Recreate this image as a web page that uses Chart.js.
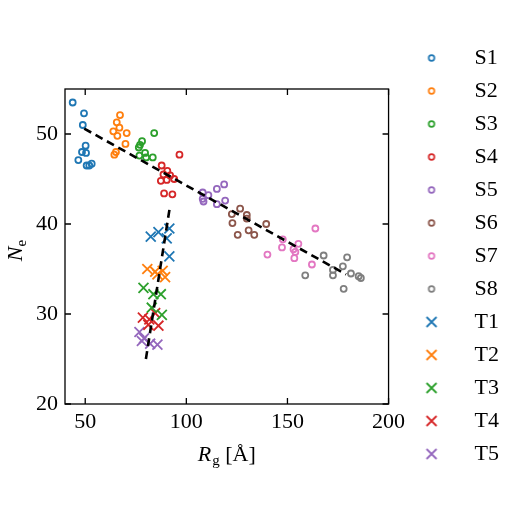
<!DOCTYPE html>
<html>
<head>
<meta charset="utf-8">
<script src="https://cdn.jsdelivr.net/npm/chart.js@4.4.1/dist/chart.umd.min.js"></script>
<style>
  html, body { margin: 0; padding: 0; background: #fff; }
  #grafico { display: block; }
</style>
</head>
<body>
<canvas id="grafico" width="512" height="512"></canvas>
<script>
// series S (circles): Rg [Å] and Ne
const s1X = [43.8, 49.4, 48.8, 50.2, 48.4, 50.4, 46.6, 50.7, 53.2, 52.0];
const s1Y = [53.5, 52.3, 51.0, 48.7, 48.0, 47.9, 47.1, 46.5, 46.7, 46.5];
const s2X = [67.2, 65.6, 66.9, 63.9, 70.5, 65.9, 69.9, 65.2, 64.4];
const s2Y = [52.1, 51.3, 50.7, 50.3, 50.1, 49.8, 48.9, 48.0, 47.7];
const s3X = [84.1, 78.1, 77.1, 76.5, 79.6, 76.8, 80.1, 83.4];
const s3Y = [50.1, 49.2, 48.8, 48.5, 47.9, 47.6, 47.4, 47.4];
const s4X = [96.6, 87.8, 90.6, 88.7, 92.0, 94.0, 87.4, 90.3, 89.0, 93.1];
const s4Y = [47.7, 46.5, 45.9, 45.5, 45.4, 45.0, 44.8, 44.9, 43.4, 43.3];
const s5X = [118.7, 115.1, 108.1, 110.9, 108.1, 108.5, 119.2, 115.1];
const s5Y = [44.4, 43.9, 43.5, 43.2, 42.8, 42.5, 42.6, 42.2];
const s6X = [126.6, 122.5, 129.9, 129.9, 139.5, 122.8, 130.8, 133.6, 125.4];
const s6Y = [41.7, 41.1, 41.0, 40.6, 40.0, 40.1, 39.3, 38.8, 38.8];
const s7X = [163.8, 147.7, 155.4, 147.3, 153.0, 153.9, 140.1, 153.4, 162.1];
const s7Y = [39.5, 38.3, 37.8, 37.4, 37.2, 36.9, 36.6, 36.2, 35.5];
const s8X = [167.9, 179.5, 177.4, 172.5, 181.4, 185.2, 186.3, 158.8, 172.5, 177.8];
const s8Y = [36.5, 36.3, 35.3, 34.9, 34.5, 34.2, 34.0, 34.3, 34.3, 32.8];

// series T (crosses)
const t1X = [82.4, 86.2, 91.6, 90.3, 91.6];
const t1Y = [38.6, 39.1, 39.5, 38.4, 36.4];
const t2X = [80.7, 84.6, 88.3, 89.5, 85.7];
const t2Y = [35.0, 34.7, 34.8, 34.1, 34.4];
const t3X = [78.8, 83.7, 87.4, 82.9, 87.9];
const t3Y = [32.9, 32.2, 32.2, 30.7, 29.9];
const t4X = [78.5, 84.6, 81.7, 86.2, 81.2];
const t4Y = [29.6, 30.1, 29.4, 28.7, 28.8];
const t5X = [76.8, 79.1, 82.1, 85.7, 78.0];
const t5Y = [28.0, 27.3, 26.7, 26.6, 27.0];

// dashed fit lines (end points)
const fitSX = [49.5, 179.0];
const fitSY = [50.6, 34.4];
const fitTX = [80.0, 92.0];
const fitTY = [25.0, 42.1];

const etiquetas = ['S1', 'S2', 'S3', 'S4', 'S5', 'S6', 'S7', 'S8', 'T1', 'T2', 'T3', 'T4', 'T5'];
const colores = ['#1f77b4', '#ff7f0e', '#2ca02c', '#d62728', '#9467bd', '#8c564b', '#e377c2', '#7f7f7f',
                 '#1f77b4', '#ff7f0e', '#2ca02c', '#d62728', '#9467bd'];
const xTicks = [50, 100, 150, 200];
const yTicks = [20, 30, 40, 50];

const serieX = [s1X, s2X, s3X, s4X, s5X, s6X, s7X, s8X, t1X, t2X, t3X, t4X, t5X];
const serieY = [s1Y, s2Y, s3Y, s4Y, s5Y, s6Y, s7Y, s8Y, t1Y, t2Y, t3Y, t4Y, t5Y];

const FONT = "'Liberation Serif', 'DejaVu Serif', serif";
const TAM = 22;

const puntos = (xs, ys) => xs.map((x, i) => ({x: x, y: ys[i]}));

// small canvases so the legend markers keep their own size
function marcador(tipo, color){
  const c = document.createElement('canvas');
  c.width = 16; c.height = 16;
  const g = c.getContext('2d');
  g.strokeStyle = color;
  g.beginPath();
  if(tipo === 'o'){
    g.lineWidth = 1.7;
    g.arc(8, 8, 2.8, 0, Math.PI * 2);
  } else {
    g.lineWidth = 1.8;
    g.moveTo(3, 3); g.lineTo(13, 13);
    g.moveTo(13, 3); g.lineTo(3, 13);
  }
  g.stroke();
  return c;
}

const datasets = etiquetas.map((nombre, i) => {
  const esCruz = nombre[0] === 'T';
  return {
    label: nombre,
    data: puntos(serieX[i], serieY[i]),
    showLine: false,
    pointStyle: esCruz ? 'crossRot' : 'circle',
    pointRadius: esCruz ? 7 : 3,
    pointBorderWidth: esCruz ? 1.8 : 1.8,
    borderColor: colores[i],
    backgroundColor: 'rgba(0,0,0,0)',
    pointBackgroundColor: 'rgba(0,0,0,0)',
    legendMarker: marcador(esCruz ? 'x' : 'o', colores[i])
  };
});

[[fitSX, fitSY], [fitTX, fitTY]].forEach(([xs, ys], k) => {
  datasets.push({
    label: 'fit' + k,
    data: puntos(xs, ys),
    showLine: true,
    borderColor: '#000',
    borderWidth: 2.6,
    borderDash: [8, 5],
    pointRadius: 0,
    order: -1
  });
});

/* frame, inward ticks and the axis titles */
const marco = {
  id: 'marco',
  afterDraw(chart){
    const {ctx, chartArea: a, scales} = chart;
    ctx.save();
    ctx.strokeStyle = '#000';
    ctx.lineWidth = 1.3;
    ctx.strokeRect(a.left, a.top, a.right - a.left, a.bottom - a.top);
    ctx.beginPath();
    xTicks.forEach(v => {
      const px = scales.x.getPixelForValue(v);
      ctx.moveTo(px, a.bottom); ctx.lineTo(px, a.bottom - 6);
      ctx.moveTo(px, a.top); ctx.lineTo(px, a.top + 6);
    });
    yTicks.forEach(v => {
      const py = scales.y.getPixelForValue(v);
      ctx.moveTo(a.left, py); ctx.lineTo(a.left + 6, py);
      ctx.moveTo(a.right, py); ctx.lineTo(a.right - 6, py);
    });
    ctx.stroke();

    ctx.fillStyle = '#000';
    ctx.textBaseline = 'alphabetic';
    ctx.textAlign = 'left';

    // x title: R_g [Å]
    const fMain = 'italic ' + TAM + 'px ' + FONT, fSub = '15px ' + FONT, fUp = TAM + 'px ' + FONT;
    ctx.font = fMain; const wR = ctx.measureText('R').width;
    ctx.font = fSub;  const wg = ctx.measureText('g').width;
    ctx.font = fUp;   const wB = ctx.measureText(' [Å]').width;
    const x0 = (a.left + a.right) / 2 - (wR + wg + wB + 1) / 2;
    const base = 461;
    ctx.font = fMain; ctx.fillText('R', x0, base);
    ctx.font = fSub;  ctx.fillText('g', x0 + wR + 1, base + 4);
    ctx.font = fUp;   ctx.fillText(' [Å]', x0 + wR + 1 + wg, base);

    // y title: N_e
    ctx.translate(22, (a.top + a.bottom) / 2 + 4);
    ctx.rotate(-Math.PI / 2);
    ctx.font = fMain; const wN = ctx.measureText('N').width;
    ctx.font = fSub;  const we = ctx.measureText('e').width;
    const y0 = -(wN + we) / 2;
    ctx.font = fMain; ctx.fillText('N', y0, 0);
    ctx.font = fSub;  ctx.fillText('e', y0 + wN, 4);
    ctx.restore();
  }
};

const fuenteTicks = {family: FONT, size: TAM};

new Chart(document.getElementById('grafico'), {
  type: 'scatter',
  data: {datasets: datasets},
  options: {
    responsive: false,
    animation: false,
    layout: {padding: {top: 0, right: 3, bottom: 0, left: 0}},
    plugins: {
      tooltip: {enabled: false},
      legend: {
        position: 'right',
        labels: {
          font: {family: FONT, size: TAM},
          color: '#000',
          padding: 11,
          usePointStyle: true,
          pointStyleWidth: 64,
          filter: item => item.datasetIndex < etiquetas.length,
          generateLabels: chart => {
            const base = Chart.defaults.plugins.legend.labels.generateLabels(chart);
            base.forEach(it => {
              const ds = chart.data.datasets[it.datasetIndex];
              if(ds.legendMarker){ it.pointStyle = ds.legendMarker; }
              it.fontColor = '#000';
            });
            return base;
          }
        }
      }
    },
    scales: {
      x: {
        type: 'linear', position: 'bottom', min: 40, max: 200,
        grid: {display: false, drawTicks: false},
        border: {display: false},
        ticks: {font: fuenteTicks, color: '#000', padding: 5, maxRotation: 0},
        afterBuildTicks: s => { s.ticks = xTicks.map(v => ({value: v})); },
        afterFit: s => { s.height = 108; }
      },
      y: {
        type: 'linear', position: 'left', min: 20, max: 55,
        grid: {display: false, drawTicks: false},
        border: {display: false},
        ticks: {font: fuenteTicks, color: '#000', padding: 7},
        afterBuildTicks: s => { s.ticks = yTicks.map(v => ({value: v})); },
        afterFit: s => { s.width = 65; }
      },
      arriba: {
        type: 'linear', position: 'top', min: 40, max: 200,
        grid: {display: false}, border: {display: false},
        ticks: {display: false},
        afterFit: s => { s.height = 89; }
      }
    }
  },
  plugins: [marco]
});
</script>
</body>
</html>
